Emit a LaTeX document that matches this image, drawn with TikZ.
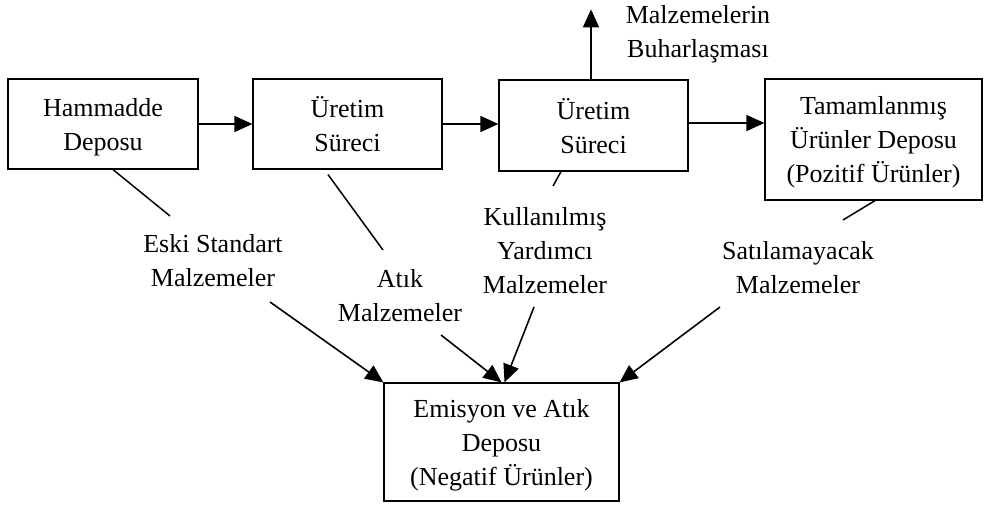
\documentclass[tikz,border=0pt]{standalone}
\usepackage{fontspec}
\setmainfont{Liberation Serif}
\usetikzlibrary{arrows.meta}

\tikzset{
  box/.style={draw, line width=1.2pt, align=center, inner sep=0pt, text depth=0pt,
    font=\fontsize{26}{34}\selectfont},
  lbl/.style={align=center, inner sep=0pt, text depth=0pt,
    font=\fontsize{26}{34}\selectfont},
  link/.style={line width=1.5pt},
  flow/.style={line width=1.6pt, -{Triangle[length=18pt,width=16pt]}}
}

\begin{document}
\begin{tikzpicture}[x=1pt,y=-1pt]
  \useasboundingbox (0,0) rectangle (984,508);

  % boxes
  \node[box, minimum width=190, minimum height=90] (ham) at (103,124)
      {Hammadde\\Deposu};
  \node[box, minimum width=189, minimum height=90] (ure1) at (347.5,124)
      {Üretim\\Süreci};
  \node[box, minimum width=189, minimum height=91] (ure2) at (593.5,125.5)
      {Üretim\\Süreci};
  \node[box, minimum width=217, minimum height=121] (tam) at (873.5,139.5)
      {Tamamlanmış\\Ürünler Deposu\\(Pozitif Ürünler)};
  \node[box, minimum width=235, minimum height=118] (emis) at (501.5,442)
      {Emisyon ve Atık\\Deposu\\(Negatif Ürünler)};

  % labels
  \node[lbl] (buhar) at (698,31) {Malzemelerin\\Buharlaşması};
  \node[lbl] (eski) at (213,260) {Eski Standart\\Malzemeler};
  \node[lbl] (atik) at (400,295) {Atık\\Malzemeler};
  \node[lbl] (kull) at (545,250) {Kullanılmış\\Yardımcı\\Malzemeler};
  \node[lbl] (sati) at (798,267) {Satılamayacak\\Malzemeler};

  % main flow
  \draw[flow] (ham.east) -- (ure1.west);
  \draw[flow] (ure1.east) -- (ure1.east -| ure2.west);
  \draw[flow] ([yshift=2.5]ure2.east) -- ([yshift=2.5]ure2.east -| tam.west);
  \draw[flow] ([xshift=-2.5]ure2.north) -- ++(0,-70);

  % side streams
  \coordinate (eskiA) at (170,216);
  \coordinate (eskiB) at (270,302);
  \coordinate (atikA) at (383,250);
  \coordinate (atikB) at (441,335);
  \coordinate (kullA) at (553,186);
  \coordinate (kullB) at (534,307);
  \coordinate (satiA) at (843,220);
  \coordinate (satiB) at (720,307);

  \draw[link] ([xshift=10]ham.south) -- (eskiA);
  \draw[link] ([shift={(-19.5,5)}]ure1.south) -- (atikA);
  \draw[link] ([xshift=-32.5]ure2.south) -- (kullA);
  \draw[link] ([xshift=1.5]tam.south) -- (satiA);

  \draw[flow] (eskiB) -- (emis.north west);
  \draw[flow] (atikB) -- (emis.north);
  \draw[flow] (kullB) -- ([xshift=3]emis.north);
  \draw[flow] (satiB) -- (emis.north east);
\end{tikzpicture}
\end{document}
